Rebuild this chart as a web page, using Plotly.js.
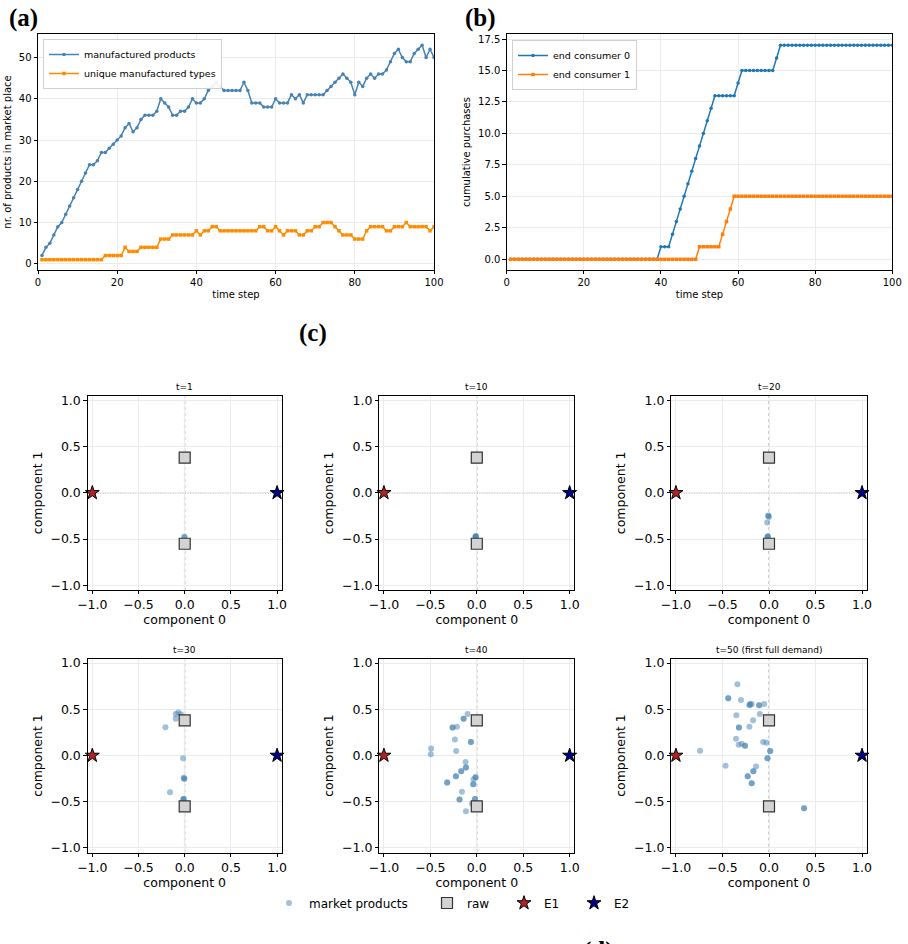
<!DOCTYPE html>
<html><head><meta charset="utf-8">
<script src="https://cdn.plot.ly/plotly-3.0.1.min.js"></script>
<style>html,body{margin:0;padding:0;overflow:hidden;background:#fff}#plot{width:908px;height:970px}</style>
</head><body><div id="plot"></div>
<script>
// ---------- data ----------
const timeStep = [1,2,3,4,5,6,7,8,9,10,11,12,13,14,15,16,17,18,19,20,21,22,23,24,25,26,27,28,29,30,31,32,33,34,35,36,37,38,39,40,41,42,43,44,45,46,47,48,49,50,51,52,53,54,55,56,57,58,59,60,61,62,63,64,65,66,67,68,69,70,71,72,73,74,75,76,77,78,79,80,81,82,83,84,85,86,87,88,89,90,91,92,93,94,95,96,97,98,99,100];
const manufacturedProducts = [2,4,5,7,9,10,12,14,16,18,20,22,24,24,25,27,27,28,29,30,31,33,34,32,33,35,36,36,36,37,40,39,38,36,36,37,37,38,40,39,39,40,42,43,44,43,42,42,42,42,42,44,42,39,39,39,38,38,38,40,39,39,39,41,40,41,39,41,41,41,41,41,42,43,44,45,46,45,44,41,44,43,45,46,45,46,46,47,49,51,52,50,49,49,51,52,53,50,52,50];
const uniqueTypes = [1,1,1,1,1,1,1,1,1,1,1,1,1,1,1,1,2,2,2,2,2,4,3,3,3,4,4,4,4,4,6,6,6,7,7,7,7,7,7,8,7,8,8,9,9,8,8,8,8,8,8,8,8,8,8,9,9,8,8,9,8,7,8,8,8,7,7,8,8,9,9,10,10,10,9,8,7,7,7,6,6,6,8,9,9,9,9,8,8,9,9,9,10,9,9,9,9,9,8,9];
const consumer0 = [0,0,0,0,0,0,0,0,0,0,0,0,0,0,0,0,0,0,0,0,0,0,0,0,0,0,0,0,0,0,0,0,0,0,0,0,0,0,0,1,1,1,2,3,4,5,6,7,8,9,10,11,12,13,13,13,13,13,13,14,15,15,15,15,15,15,15,15,15,16,17,17,17,17,17,17,17,17,17,17,17,17,17,17,17,17,17,17,17,17,17,17,17,17,17,17,17,17,17,17];
const consumer1 = [0,0,0,0,0,0,0,0,0,0,0,0,0,0,0,0,0,0,0,0,0,0,0,0,0,0,0,0,0,0,0,0,0,0,0,0,0,0,0,0,0,0,0,0,0,0,0,0,0,1,1,1,1,1,1,2,3,4,5,5,5,5,5,5,5,5,5,5,5,5,5,5,5,5,5,5,5,5,5,5,5,5,5,5,5,5,5,5,5,5,5,5,5,5,5,5,5,5,5,5];

const panelTitles = ['t=1','t=10','t=20','t=30','t=40','t=50 (first full demand)'];
const prodX_t1 = [-0.005, 0.0];
const prodY_t1 = [-0.475, -0.48];
const prodX_t10 = [-0.012, -0.012, -0.010, -0.014];
const prodY_t10 = [-0.470, -0.475, -0.470, -0.475];
const prodX_t20 = [-0.010, -0.005, 0.000, -0.020, -0.015, -0.015, -0.012];
const prodY_t20 = [-0.245, -0.250, -0.260, -0.320, -0.475, -0.475, -0.470];
const prodX_t30 = [-0.097, -0.069, -0.043, -0.097, -0.209, -0.018, -0.011, -0.004, -0.004, -0.159, -0.014, -0.014, -0.010];
const prodY_t30 = [0.450, 0.465, 0.447, 0.397, 0.307, -0.030, -0.240, -0.250, -0.255, -0.397, -0.470, -0.475, -0.470];
const prodX_t40 = [-0.099, -0.142, -0.142, -0.261, -0.261, -0.214, -0.236, -0.063, -0.063, -0.492, -0.222, -0.495, -0.121, -0.117, -0.117, -0.168, -0.168, -0.225, -0.225, -0.319, -0.319, -0.013, -0.013, -0.034, -0.038, -0.038, -0.160, -0.186, -0.186, -0.020, -0.020, -0.052, -0.117];
const prodY_t40 = [0.450, 0.397, 0.397, 0.303, 0.303, 0.310, 0.174, 0.145, 0.145, 0.077, 0.048, 0.013, -0.070, -0.131, -0.131, -0.171, -0.171, -0.225, -0.225, -0.289, -0.295, -0.235, -0.235, -0.257, -0.310, -0.310, -0.393, -0.476, -0.476, -0.470, -0.470, -0.522, -0.604];
const prodX_t50 = [-0.340, -0.438, -0.438, -0.301, -0.204, -0.186, -0.211, -0.204, -0.106, -0.106, -0.052, -0.351, -0.099, -0.171, -0.323, -0.323, -0.211, -0.355, -0.326, -0.294, -0.258, -0.258, -0.063, -0.027, 0.013, 0.013, -0.016, -0.016, -0.741, -0.467, -0.139, -0.168, -0.168, -0.229, -0.229, -0.186, -0.186, 0.377, 0.377];
const prodY_t50 = [0.770, 0.619, 0.619, 0.601, 0.558, 0.558, 0.544, 0.550, 0.544, 0.544, 0.558, 0.436, 0.450, 0.382, 0.303, 0.303, 0.310, 0.181, 0.117, 0.127, 0.106, 0.106, 0.145, 0.138, 0.048, 0.048, -0.030, -0.030, 0.052, -0.110, -0.120, -0.171, -0.171, -0.225, -0.225, -0.300, -0.300, -0.570, -0.570];
const productsX = [prodX_t1, prodX_t10, prodX_t20, prodX_t30, prodX_t40, prodX_t50];
const productsY = [prodY_t1, prodY_t10, prodY_t20, prodY_t30, prodY_t40, prodY_t50];
const rawX = [0, 0];
const rawY = [0.38, -0.55];
const e1X = [-1], e1Y = [0];
const e2X = [1], e2Y = [0];
const scatterTicks = [-1, -0.5, 0, 0.5, 1];
const timeTicks = [0, 20, 40, 60, 80, 100];

// ---------- geometry helpers ----------
const W = 908, H = 970;
const fx = p => p / W;
const fy = p => 1 - p / H;
const FONT = 'DejaVu Sans';
const GRID = '#ebebeb';

function baseAxis(extra) {
  return Object.assign({
    showline: true, mirror: true, linecolor: '#000', linewidth: 0.8,
    ticks: 'outside', ticklen: 3.5, tickwidth: 0.8, tickcolor: '#000',
    showgrid: true, gridcolor: GRID, gridwidth: 0.8, zeroline: false,
    tickfont: {family: FONT, size: 10, color: '#000'}
  }, extra);
}

const traces = [];
const layout = {
  width: W, height: H, margin: {l: 0, r: 0, t: 0, b: 0},
  paper_bgcolor: '#fff', plot_bgcolor: '#fff',
  font: {family: FONT, color: '#000'},
  showlegend: true, shapes: [], annotations: []
};

// ---------- panel (a) ----------
traces.push({x: timeStep, y: manufacturedProducts, type: 'scatter', mode: 'lines+markers',
  name: 'manufactured products', xaxis: 'x', yaxis: 'y', legend: 'legend',
  line: {color: '#4682b4', width: 1.5}, marker: {color: '#4682b4', size: 3.5, symbol: 'circle'}});
traces.push({x: timeStep, y: uniqueTypes, type: 'scatter', mode: 'lines+markers',
  name: 'unique manufactured types', xaxis: 'x', yaxis: 'y', legend: 'legend',
  line: {color: '#ff8c00', width: 1.5}, marker: {color: '#ff8c00', size: 3.5, symbol: 'square'}});
layout.xaxis = baseAxis({domain: [fx(38), fx(434)], anchor: 'y', range: [0, 100], tickvals: timeTicks,
  title: {text: 'time step', font: {family: FONT, size: 10}, standoff: 3}});
layout.yaxis = baseAxis({domain: [fy(270), fy(34)], anchor: 'x', range: [-1.5, 55.7], dtick: 10, tick0: 0,
  title: {text: 'nr. of products in market place', font: {family: FONT, size: 10}, standoff: 5}});
layout.legend = {x: fx(43), y: fy(39), xanchor: 'left', yanchor: 'top', bgcolor: 'rgba(255,255,255,0.9)',
  bordercolor: '#d0d0d0', borderwidth: 1, font: {family: FONT, size: 9.5}};

// ---------- panel (b) ----------
traces.push({x: timeStep, y: consumer0, type: 'scatter', mode: 'lines+markers',
  name: 'end consumer 0', xaxis: 'x2', yaxis: 'y2', legend: 'legend2',
  line: {color: '#1f77b4', width: 1.5}, marker: {color: '#1f77b4', size: 3.5, symbol: 'circle'}});
traces.push({x: timeStep, y: consumer1, type: 'scatter', mode: 'lines+markers',
  name: 'end consumer 1', xaxis: 'x2', yaxis: 'y2', legend: 'legend2',
  line: {color: '#ff7f0e', width: 1.5}, marker: {color: '#ff7f0e', size: 3.5, symbol: 'square'}});
layout.xaxis2 = baseAxis({domain: [fx(506.7), fx(892.3)], anchor: 'y2', range: [0, 100], tickvals: timeTicks,
  title: {text: 'time step', font: {family: FONT, size: 10}, standoff: 3}});
layout.yaxis2 = baseAxis({domain: [fy(270), fy(34)], anchor: 'x2', range: [-0.85, 17.9], dtick: 2.5, tick0: 0, tickformat: '.1f',
  title: {text: 'cumulative purchases', font: {family: FONT, size: 10}, standoff: 5}});
layout.legend2 = {x: fx(512), y: fy(40), xanchor: 'left', yanchor: 'top', bgcolor: 'rgba(255,255,255,0.9)',
  bordercolor: '#d0d0d0', borderwidth: 1, font: {family: FONT, size: 9.5}};

// ---------- panels (c) ----------
const colsX = [[87.7, 281.7], [379.3, 574.3], [671.3, 866.7]];
const rowsY = [[395.7, 590], [658.5, 852.5]];
for (let i = 0; i < 6; i++) {
  const n = i + 3;
  const xa = 'x' + n, ya = 'y' + n;
  const c = colsX[i % 3], r = rowsY[Math.floor(i / 3)];
  layout['xaxis' + n] = baseAxis({domain: [fx(c[0]), fx(c[1])], anchor: ya, range: [-1.05, 1.05],
    tickvals: scatterTicks, tickformat: '.1f', tickfont: {family: FONT, size: 12.5, color: '#000'},
    title: {text: 'component 0', font: {family: FONT, size: 12.5}, standoff: 2}});
  layout['yaxis' + n] = baseAxis({domain: [fy(r[1]), fy(r[0])], anchor: xa, range: [-1.05, 1.05],
    tickvals: scatterTicks, tickformat: '.1f', tickfont: {family: FONT, size: 12.5, color: '#000'},
    title: {text: 'component 1', font: {family: FONT, size: 12.5}, standoff: 5}});
  layout.shapes.push({type: 'line', layer: 'below', xref: xa, yref: ya, x0: 0, x1: 0, y0: -1.05, y1: 1.05,
    line: {color: '#c4c4c4', width: 1.6, dash: 'dot'}});
  layout.shapes.push({type: 'line', layer: 'below', xref: xa, yref: ya, x0: -1.05, x1: 1.05, y0: 0, y1: 0,
    line: {color: '#5a5a5a', width: 0.9, dash: '1px,1.5px'}});
  layout.annotations.push({text: panelTitles[i], xref: 'paper', yref: 'paper', x: fx((c[0] + c[1]) / 2),
    y: fy(r[0] - 9), xanchor: 'center', yanchor: 'middle', showarrow: false, font: {family: FONT, size: 9}});
  const first = i === 0;
  traces.push({x: productsX[i], y: productsY[i], type: 'scatter', mode: 'markers', name: 'market products',
    xaxis: xa, yaxis: ya, legend: 'legend3', showlegend: first, cliponaxis: false,
    marker: {color: '#4682b4', opacity: 0.5, size: 6, line: {width: 0}}});
  traces.push({x: rawX, y: rawY, type: 'scatter', mode: 'markers', name: 'raw',
    xaxis: xa, yaxis: ya, legend: 'legend4', showlegend: first, cliponaxis: false,
    marker: {color: '#d3d3d3', symbol: 'square', size: 11, line: {color: '#333', width: 1.2}}});
  traces.push({x: e1X, y: e1Y, type: 'scatter', mode: 'markers', name: 'E1',
    xaxis: xa, yaxis: ya, legend: 'legend5', showlegend: first, cliponaxis: false,
    marker: {color: '#b22222', symbol: 'star', size: 10.5, line: {color: '#000', width: 1}}});
  traces.push({x: e2X, y: e2Y, type: 'scatter', mode: 'markers', name: 'E2',
    xaxis: xa, yaxis: ya, legend: 'legend6', showlegend: first, cliponaxis: false,
    marker: {color: '#00008b', symbol: 'star', size: 10.5, line: {color: '#000', width: 1}}});
}
const legY = fy(903);
const botLeg = xpx => ({x: fx(xpx), y: legY, xanchor: 'left', yanchor: 'middle', orientation: 'h',
  bgcolor: 'rgba(0,0,0,0)', borderwidth: 0, font: {family: FONT, size: 12}});
layout.legend3 = botLeg(269);
layout.legend4 = botLeg(427);
layout.legend5 = botLeg(504);
layout.legend6 = botLeg(574);

// ---------- panel letters ----------
const letterFont = {family: 'Liberation Serif', size: 25, color: '#000'};
[['(a)', 23, 18], ['(b)', 481, 18], ['(c)', 313, 333], ['(d)', 598, 951]].forEach(l => {
  layout.annotations.push({text: '<b>' + l[0] + '</b>', xref: 'paper', yref: 'paper', x: fx(l[1]), y: fy(l[2]),
    xanchor: 'center', yanchor: 'middle', showarrow: false, font: letterFont});
});

Plotly.newPlot('plot', traces, layout, {displayModeBar: false});
</script></body></html>
